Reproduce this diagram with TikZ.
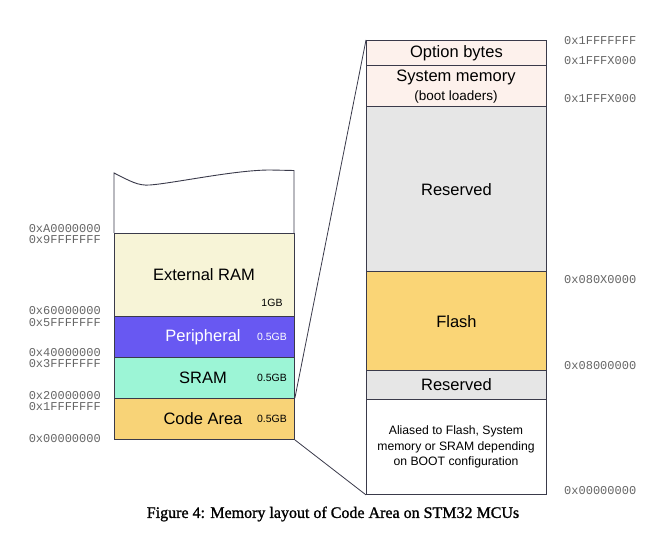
\documentclass[tikz,border=0pt]{standalone}
\usepackage{fontspec}
\setmainfont{Liberation Serif}
\setsansfont{Liberation Sans}
\setmonofont{Liberation Mono}
\newfontfamily\capfont[FakeBold=1.2]{Liberation Serif}
\definecolor{extc}{HTML}{F7F4D7}
\definecolor{perc}{HTML}{6858F2}
\definecolor{sramc}{HTML}{9CF5D6}
\definecolor{codec}{HTML}{F8D377}
\definecolor{flashc}{HTML}{FAD576}
\definecolor{optc}{HTML}{FDF1EC}
\definecolor{resc}{HTML}{E6E6E6}
\definecolor{edgec}{HTML}{3A3A4A}
\definecolor{addrc}{HTML}{666666}
\begin{document}
\begin{tikzpicture}[x=1pt,y=-1pt,
  region/.style={draw=edgec,line width=0.9pt,minimum width=180pt,inner sep=0pt,anchor=north west,font=\sffamily\fontsize{16.5}{18}\selectfont},
  lbl/.style={font=\sffamily\fontsize{16.5}{18}\selectfont},
  size/.style={font=\sffamily\fontsize{10.5}{12}\selectfont},
  addr/.style={font=\ttfamily\fontsize{12}{12}\selectfont,text=addrc,inner sep=0pt,text height=7pt,text depth=0.5pt},
  addrl/.style={addr,anchor=east},
  addrr/.style={addr,anchor=west},
  link/.style={draw=edgec,line width=0.8pt}]
\useasboundingbox[fill=white] (0,0) rectangle (650,534);
% top open region of the left column
\draw[edgec,line width=0.9pt,fill=white] (114,233) -- (114,173) .. controls (130,181) and (138,186) .. (150,185) .. controls (175,183) and (235,170) .. (270,170) -- (294,170.5) -- (294,233);
% left column
\node[region,fill=extc,minimum height=83pt] (ext) at (114,233) {};
\node[lbl] (extl) at (204,275) {External RAM};
\node[region,fill=perc,minimum height=41pt] (per) at (114,316) {};
\node[region,fill=sramc,minimum height=41pt] (sram) at (114,357) {};
\node[region,fill=codec,minimum height=41pt] (code) at (114,398) {};
\node[lbl,text=white] (perl) at (203,337) {Peripheral};
\node[lbl] (sraml) at (203,378) {SRAM};
\node[lbl] (codel) at (203,419) {Code Area};
\node[size] (s1) at (272,303) {1GB};
\node[size,text=white] (s2) at (272,337) {0.5GB};
\node[size] (s3) at (272,378) {0.5GB};
\node[size] (s4) at (272,419) {0.5GB};
% left addresses
\node[addrl] (a1) at (101,229) {0xA0000000};
\node[addrl] (a2) at (101,240.5) {0x9FFFFFFF};
\node[addrl] (a3) at (101,311.5) {0x60000000};
\node[addrl] (a4) at (101,323) {0x5FFFFFFF};
\node[addrl] (a5) at (101,353.5) {0x40000000};
\node[addrl] (a6) at (101,364.5) {0x3FFFFFFF};
\node[addrl] (a7) at (101,396) {0x20000000};
\node[addrl] (a8) at (101,407) {0x1FFFFFFF};
\node[addrl] (a9) at (101,439) {0x00000000};
% right column
\node[region,fill=optc,minimum height=25pt] (opt) at (366,40) {Option bytes};
\node[region,fill=optc,minimum height=41.5pt] (sys) at (366,65) {};
\node[lbl] (sysl) at (456,77.5) {System memory};
\node[font=\sffamily\fontsize{13.5}{15}\selectfont] (sysl2) at (456,97) {(boot loaders)};
\node[region,fill=resc,minimum height=165pt] (res1) at (366,106.5) {Reserved};
\node[region,fill=flashc,minimum height=98.5pt] (flash) at (366,271.5) {Flash};
\node[region,fill=resc,minimum height=28.5pt] (res2) at (366,370) {Reserved};
\node[region,fill=white,minimum height=95.5pt] (alias) at (366,398.5) {};
\node[font=\sffamily\fontsize{12.2}{15.2}\selectfont,align=center] (aliasl) at (456,447) {Aliased to Flash, System\\memory or SRAM depending\\on BOOT configuration};
% right addresses
\node[addrr] (b1) at (564,41.5) {0x1FFFFFFF};
\node[addrr] (b2) at (564,61.5) {0x1FFFX000};
\node[addrr] (b3) at (564,99.5) {0x1FFFX000};
\node[addrr] (b4) at (564,280) {0x080X0000};
\node[addrr] (b5) at (564,366.5) {0x08000000};
\node[addrr] (b6) at (564,491) {0x00000000};
% zoom lines
\draw[link] (code.north east) -- (opt.north west);
\draw[link] (code.south east) -- (alias.south west);
% caption
\node[font=\capfont\fontsize{16}{18}\selectfont] (cap) at (333,514) {Figure 4: Memory layout of Code Area on STM32 MCUs};
\end{tikzpicture}
\end{document}
